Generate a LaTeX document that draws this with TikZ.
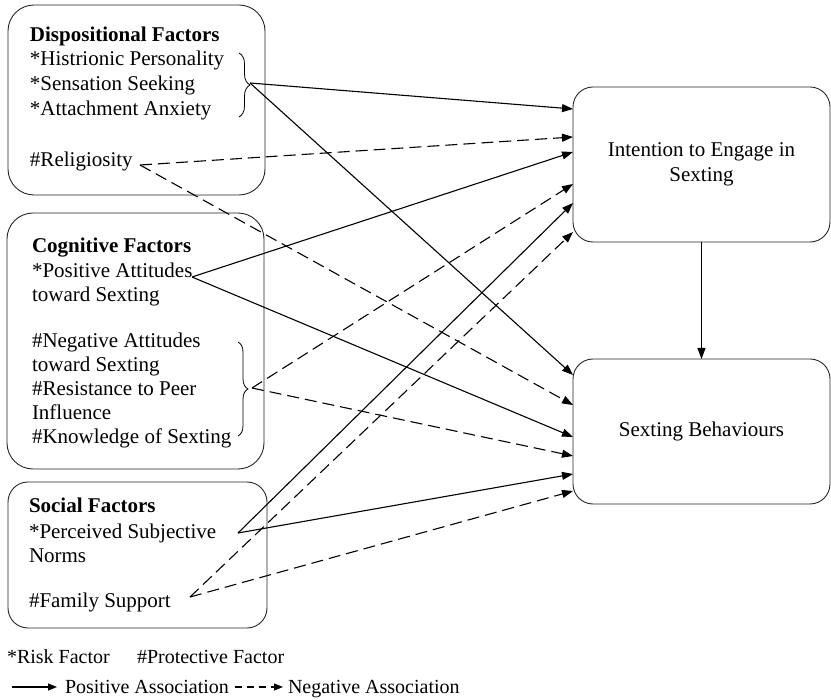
\documentclass[tikz,border=0pt]{standalone}
\usepackage{fontspec}
\setmainfont{Liberation Serif}
\usetikzlibrary{arrows.meta,decorations.pathreplacing}
\begin{document}
\begin{tikzpicture}[x=1pt,y=-1pt,
  every node/.style={inner sep=0pt, outer sep=0pt},
  txt/.style={anchor=base west, font=\fontsize{21}{24}\selectfont},
  ttl/.style={anchor=base west, font=\fontsize{21}{24}\selectfont\bfseries},
  legtxt/.style={anchor=base west, font=\fontsize{20}{24}\selectfont},
  factorbox/.style={draw=black!85, line width=0.9pt, rounded corners=#1},
  outbox/.style={draw=black!85, line width=0.9pt, rounded corners=20pt,
    minimum width=257pt, align=center, font=\fontsize{21}{25}\selectfont},
  brc/.style={draw, line width=0.8pt, decorate,
    decoration={brace, amplitude=#1}},
  posarrow/.style={line width=1.1pt, -{Triangle[length=11pt,width=8pt]}},
  negarrow/.style={posarrow, dash pattern=on 12pt off 6pt},
  legpos/.style={line width=1.1pt, -{Triangle[length=9pt,width=7pt]}},
  legneg/.style={legpos, dash pattern=on 7pt off 5pt}
]
\useasboundingbox (0,0) rectangle (831,700);

% ---------- factor groups ----------
\node[factorbox=26pt, minimum width=257pt, minimum height=190pt] (disp) at (136.5,100) {};
\node[ttl] (dT) at (30,42) {Dispositional Factors};
\node[txt] (d1) at (30,66) {*Histrionic Personality};
\node[txt] (d2) at (30,91) {*Sensation Seeking};
\node[txt] (d3) at (30,115.5) {*Attachment Anxiety};
\node[txt] (d4) at (30,167) {\#Religiosity};
\draw[brc=11pt] (239,53) -- (239,117);
\coordinate (dtip) at (250,83);
\coordinate (relig) at (140,165);

\node[factorbox=26pt, minimum width=257pt, minimum height=256pt] (cog) at (135.5,341) {};
\node[ttl] (cT) at (32,253) {Cognitive Factors};
\node[txt] (c1) at (32,278) {*Positive Attitudes};
\node[txt] (c2) at (32,302) {toward Sexting};
\node[txt] (c3) at (32,348) {\#Negative Attitudes};
\node[txt] (c4) at (32,372) {toward Sexting};
\node[txt] (c5) at (32,396) {\#Resistance to Peer};
\node[txt] (c6) at (32,420) {Influence};
\node[txt] (c7) at (32,444) {\#Knowledge of Sexting};
\draw[brc=10pt] (238,342) -- (238,436);
\coordinate (ctip) at (252,388);
\coordinate (posatt) at (192,277);

\node[factorbox=20pt, minimum width=259pt, minimum height=146pt] (soc) at (137.5,555) {};
\node[ttl] (sT) at (29,513) {Social Factors};
\node[txt] (s1) at (29,539) {*Perceived Subjective};
\node[txt] (s2) at (29,563) {Norms};
\node[txt] (s3) at (29,608) {\#Family Support};
\coordinate (norms) at (238,533);
\coordinate (family) at (190,597);

% ---------- outcomes ----------
\node[outbox, minimum height=155pt] (intent) at (701.5,164.5) {Intention to Engage in\\Sexting};
\node[outbox, minimum height=145pt] (behav) at (701.5,431.5) {Sexting Behaviours};
\draw[posarrow] (intent.south) -- (behav.north);

% ---------- paths into intention ----------
\draw[posarrow] (dtip) -- (intent.west |- 0,109);
\draw[negarrow] (relig) -- (intent.west |- 0,137);
\draw[posarrow] (posatt) -- (intent.west |- 0,152);
\draw[negarrow] (ctip) -- (intent.west |- 0,184);
\draw[posarrow] (norms) -- (intent.west |- 0,203);
\draw[negarrow] (family) -- (intent.west |- 0,232);

% ---------- paths into behaviours ----------
\draw[posarrow] (dtip) -- (behav.west |- 0,375);
\draw[negarrow] (relig) -- (behav.west |- 0,405);
\draw[posarrow] (posatt) -- (behav.west |- 0,437);
\draw[negarrow] (ctip) -- (behav.west |- 0,456);
\draw[posarrow] (norms) -- (behav.west |- 0,474);
\draw[negarrow] (family) -- (behav.west |- 0,491);

% ---------- legend ----------
\node[legtxt] (risk) at (7,663) {*Risk Factor};
\node[legtxt] (prot) at (137,663) {\#Protective Factor};
\node[legtxt] (posl) at (65,694) {Positive Association};
\node[legtxt] (negl) at (288,694) {Negative Association};
\coordinate (lp) at (12,687);
\coordinate (ln) at (235,687);
\draw[legpos] (lp) -- ([xshift=-8pt]posl.west |- lp);
\draw[legneg] (ln) -- ([xshift=-5pt]negl.west |- ln);
\end{tikzpicture}
\end{document}
